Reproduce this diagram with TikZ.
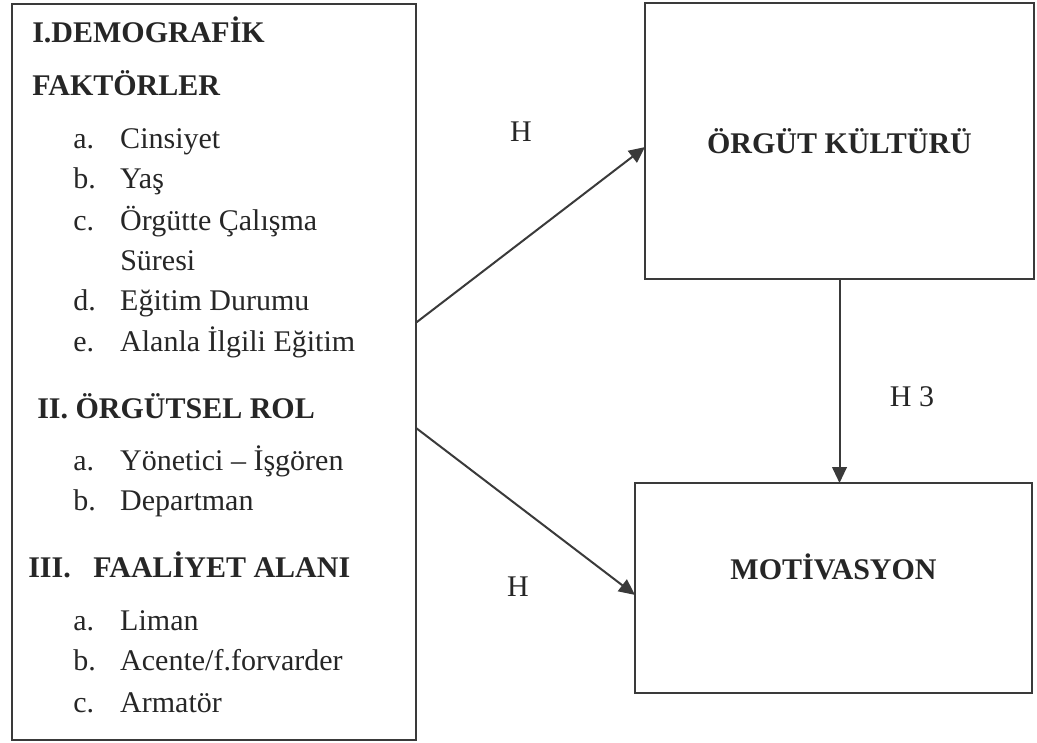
\documentclass[tikz,border=0pt]{standalone}
\usepackage{fontspec}
\setmainfont{Liberation Serif}
\usetikzlibrary{arrows.meta, positioning, calc}
\definecolor{grisKoyu}{HTML}{3A3A3A}
\definecolor{grisYazi}{HTML}{262626}
\colorlet{colCizgi}{grisKoyu}
\colorlet{colYazi}{grisYazi}
\newcommand{\madde}[1]{\makebox[35.25pt][l]{#1}}
\tikzset{
  kutuTemel/.style={
    draw=colCizgi, line width=1.5pt,
    inner sep=0pt, outer sep=0pt
  },
  baslikYazi/.style={font=\fontsize{22.5}{27}\selectfont\bfseries, text=colYazi, inner sep=0pt},
  baslikSol/.style={baslikYazi, anchor=base west},
  maddeYazi/.style={font=\fontsize{22.5}{27}\selectfont, text=colYazi, inner sep=0pt, anchor=base west},
  ok/.style={-{Triangle[length=12pt, width=11pt]}, line width=1.5pt, colCizgi},
  okEtiketi/.style={font=\fontsize{22.5}{27}\selectfont, text=colYazi, inner sep=0pt},
}

\begin{document}
\begin{tikzpicture}[x=0.75pt, y=-0.75pt]
    \useasboundingbox (0,0) rectangle (1037,742);
    % kutular
    \node[kutuTemel, minimum width=303pt, minimum height=552pt] (faktorler) at (214,372) {};
    \node[kutuTemel, baslikYazi, minimum width=291.75pt, minimum height=207pt] (kultur) at (839.5,141) {ÖRGÜT KÜLTÜRÜ};
    \node[kutuTemel, minimum width=297.75pt, minimum height=157.5pt] (motivasyon) at (833.5,588) {};
    \node[baslikYazi] (motivasyonYazi) at (833.5,567) {MOTİVASYON};
    % sol kutu metni
    \node[baslikSol] (demografik) at (32,43) {I.DEMOGRAFİK};
    \node[baslikSol] (faktor) at (32,95) {FAKTÖRLER};
    \node[maddeYazi] (cinsiyet) at (73,148) {\madde{a.}Cinsiyet};
    \node[maddeYazi] (yas) at (73,188) {\madde{b.}Yaş};
    \node[maddeYazi] (calisma) at (73,230) {\madde{c.}Örgütte Çalışma};
    \node[maddeYazi] (sure) at (120,270) {Süresi};
    \node[maddeYazi] (egitim) at (73,310) {\madde{d.}Eğitim Durumu};
    \node[maddeYazi] (alan) at (73,351) {\madde{e.}Alanla İlgili Eğitim};
    \node[baslikSol] (rol) at (37,418) {II. ÖRGÜTSEL ROL};
    \node[maddeYazi] (yonetici) at (73,470) {\madde{a.}Yönetici – İşgören};
    \node[maddeYazi] (departman) at (73,510) {\madde{b.}Departman};
    \node[baslikSol] (faaliyet) at (28,577) {III.\hspace{0.5em} FAALİYET ALANI};
    \node[maddeYazi] (liman) at (73,630) {\madde{a.}Liman};
    \node[maddeYazi] (acente) at (73,670) {\madde{b.}Acente/f.forvarder};
    \node[maddeYazi] (armator) at (73,712) {\madde{c.}Armatör};
    % oklar
    \draw[ok] ($(faktorler.north east)!0.433!(faktorler.south east)$) -- ($(kultur.north west)!0.522!(kultur.south west)$);
    \draw[ok] ($(faktorler.north east)!0.576!(faktorler.south east)$) -- ($(motivasyon.north west)!0.533!(motivasyon.south west)$);
    \draw[ok] (kultur.south) -- (kultur.south |- motivasyon.north);
    \node[okEtiketi] (hUst) at (521,132) {H};
    \node[okEtiketi] (hAlt) at (518,587) {H};
    \node[okEtiketi] (hUc) at (912,397) {H 3};
\end{tikzpicture}
\end{document}
